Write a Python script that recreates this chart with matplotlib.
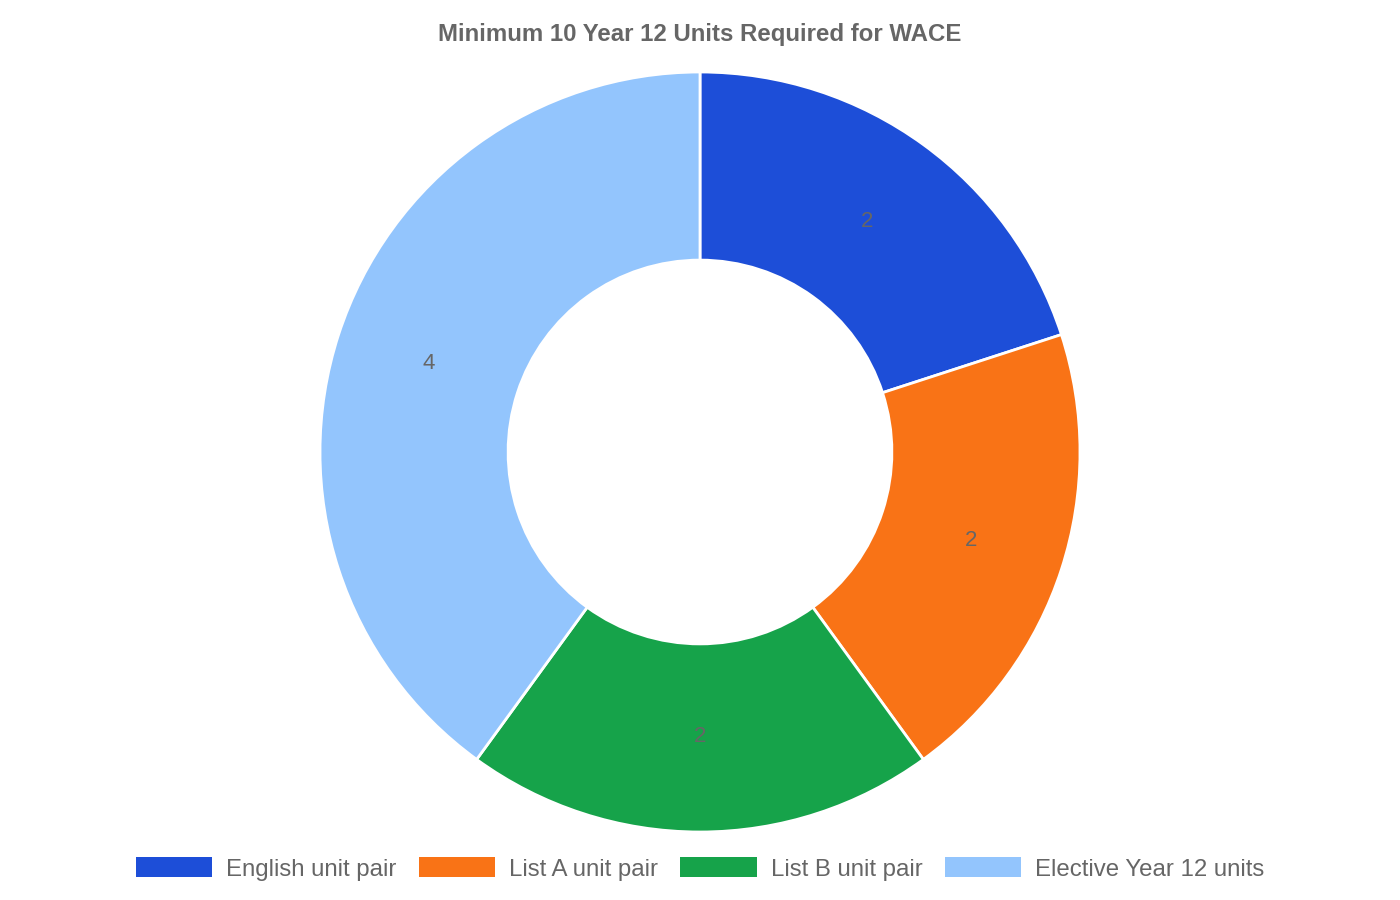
import matplotlib.pyplot as plt
from matplotlib.patches import Patch

plt.rcParams['font.family'] = ['Liberation Sans', 'DejaVu Sans']

# Data
categories = ["English unit pair", "List A unit pair", "List B unit pair", "Elective Year 12 units"]
units = [2, 2, 2, 4]
colors = ["#1D4ED8", "#F97316", "#16A34A", "#93C5FD"]

fig = plt.figure(figsize=(14, 9), dpi=100)
# axes sized so the donut radius is ~380 px, centred at (700, 452)
ax = fig.add_axes([320 / 1400, 68 / 900, 760 / 1400, 760 / 900])

wedges, texts = ax.pie(
    units, colors=colors, startangle=90, counterclock=False,
    labels=[str(u) for u in units], labeldistance=0.75,
    wedgeprops=dict(width=0.495, edgecolor="white", linewidth=2),
    textprops=dict(color="#666666", fontsize=16),
)
for t in texts:
    t.set_ha("center")
    t.set_va("center")
ax.set_xlim(-1, 1)
ax.set_ylim(-1, 1)
ax.set_aspect("equal")

fig.text(0.5, 1 - 34 / 900, "Minimum 10 Year 12 Units Required for WACE",
         ha="center", va="center", fontsize=17.3, fontweight="bold", color="#666666")

handles = [Patch(facecolor=c, edgecolor="none") for c in colors]
fig.legend(handles, categories, loc="center", bbox_to_anchor=(0.5, 1 - 869 / 900),
           ncol=4, frameon=False, fontsize=17.3, labelcolor="#666666",
           handlelength=3.17, handleheight=0.9, handletextpad=0.58, columnspacing=0.94)

fig.savefig("out.png", dpi=100, facecolor="white")
